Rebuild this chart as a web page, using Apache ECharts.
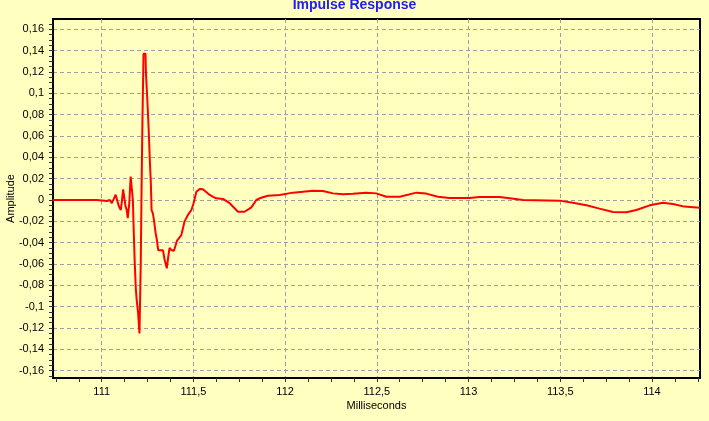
<!DOCTYPE html>
<html>
<head>
<meta charset="utf-8">
<title>Impulse Response</title>
<script src="https://cdn.jsdelivr.net/npm/echarts@6/dist/echarts.min.js"></script>
<style>
  html, body { margin: 0; padding: 0; background: #FFFFC0; }
  #chart { width: 709px; height: 421px; }
</style>
</head>
<body>
<div id="chart"></div>
<script>
// time in ms
var timeMs = [
  110.734, 110.974, 110.980, 111.028, 111.033, 111.044, 111.055, 111.066, 111.076, 111.084,
  111.093, 111.104, 111.109, 111.117, 111.125, 111.130, 111.136, 111.142, 111.150, 111.158,
  111.167, 111.170, 111.175, 111.180, 111.186, 111.191, 111.198, 111.206, 111.213, 111.217,
  111.222, 111.228, 111.239, 111.241, 111.246, 111.251, 111.257, 111.262, 111.268, 111.272,
  111.279, 111.286, 111.294, 111.301, 111.308, 111.323, 111.334, 111.343, 111.355, 111.363,
  111.370, 111.381, 111.394, 111.410, 111.434, 111.452, 111.470, 111.489, 111.501, 111.516,
  111.534, 111.552, 111.589, 111.607, 111.625, 111.661, 111.698, 111.743, 111.779, 111.816,
  111.843, 111.861, 111.906, 111.970, 112.043, 112.152, 112.206, 112.261, 112.315, 112.370,
  112.443, 112.497, 112.552, 112.625, 112.716, 112.770, 112.833, 112.897, 113.006, 113.060,
  113.169, 113.224, 113.297, 113.497, 113.569, 113.643, 113.714, 113.788, 113.861, 113.915,
  113.988, 114.060, 114.115, 114.177, 114.262
];
var amplitude = [
  0, 0, -0.001, -0.001, 0, 0, -0.003, 0.001, 0.005, 0,
  -0.0056, -0.0094, -0.003, 0.010, 0.009, -0.006, -0.009, -0.017, -0.004, 0.022,
  0.022, 0.0, -0.031, -0.058, -0.083, -0.094, -0.105, -0.125, -0.059, 0.006,
  0.072, 0.137, 0.137, 0.120, 0.103, 0.086, 0.0625, 0.039, 0.0156, -0.0094,
  -0.0125, -0.020, -0.031, -0.0375, -0.047, -0.047, -0.047, -0.056, -0.064, -0.053,
  -0.045, -0.047, -0.0475, -0.0384, -0.033, -0.020, -0.014, -0.0094, -0.003, 0.0078,
  0.0103, 0.0100, 0.0047, 0.003, 0.0016, 0.001, -0.003, -0.011, -0.011, -0.0069,
  0, 0.0016, 0.004, 0.0047, 0.0069, 0.0087, 0.0085, 0.0062, 0.0053, 0.0059,
  0.0069, 0.0062, 0.003, 0.003, 0.0069, 0.006, 0.003, 0.0019, 0.0019, 0.0028,
  0.0028, 0.0016, 0, -0.0006, -0.0025, -0.005, -0.0081, -0.0112, -0.0115, -0.0094,
  -0.005, -0.0025, -0.0037, -0.0062, -0.0072
];

// tick positions
var xMajorTicks = [111, 111.5, 112, 112.5, 113, 113.5, 114];
var xMinorTicks = [110.75, 110.875, 111, 111.125, 111.25, 111.375, 111.5, 111.625, 111.75, 111.875,
  112, 112.125, 112.25, 112.375, 112.5, 112.625, 112.75, 112.875, 113, 113.125, 113.25, 113.375,
  113.5, 113.625, 113.75, 113.875, 114, 114.125, 114.25];
var yMajorTicks = [-0.16, -0.14, -0.12, -0.1, -0.08, -0.06, -0.04, -0.02, 0,
  0.02, 0.04, 0.06, 0.08, 0.1, 0.12, 0.14, 0.16];
var yMinorTicks = [-0.165, -0.16, -0.155, -0.15, -0.145, -0.14, -0.135, -0.13, -0.125, -0.12,
  -0.115, -0.11, -0.105, -0.1, -0.095, -0.09, -0.085, -0.08, -0.075, -0.07, -0.065, -0.06,
  -0.055, -0.05, -0.045, -0.04, -0.035, -0.03, -0.025, -0.02, -0.015, -0.01, -0.005, 0,
  0.005, 0.01, 0.015, 0.02, 0.025, 0.03, 0.035, 0.04, 0.045, 0.05, 0.055, 0.06, 0.065,
  0.07, 0.075, 0.08, 0.085, 0.09, 0.095, 0.1, 0.105, 0.11, 0.115, 0.12, 0.125, 0.13,
  0.135, 0.14, 0.145, 0.15, 0.155, 0.16, 0.165];

var X_MIN = 110.7345, X_MAX = 114.262;
var Y_MIN = -0.1668, Y_MAX = 0.1696;

function commaFmt(v) {
  return String(+Number(v).toFixed(4)).replace('.', ',');
}

var chart = echarts.init(document.getElementById('chart'));
var font = 'Liberation Sans, Arial, sans-serif';
var gridLine = { show: true, lineStyle: { color: '#A0A0A0', type: [4, 3], width: 1 } };

chart.setOption({
  animation: false,
  backgroundColor: '#FFFFC0',
  textStyle: { fontFamily: font },
  title: {
    text: 'Impulse Response',
    left: 'center',
    top: -7,
    textStyle: { color: '#2020F0', fontSize: 14, fontWeight: 'bold', fontFamily: font }
  },
  grid: {
    left: 53, right: 9, top: 19, bottom: 43,
    outerBoundsMode: 'none',
    containLabel: false,
    show: true,
    backgroundColor: '#FFFFC0',
    borderColor: '#000',
    borderWidth: 2
  },
  xAxis: [{
    type: 'value',
    min: X_MIN, max: X_MAX,
    name: 'Milliseconds',
    nameLocation: 'middle',
    nameGap: 22,
    nameMoveOverlap: false,
    nameTextStyle: { color: '#000', fontSize: 11, fontFamily: font },
    axisLine: { onZero: false, lineStyle: { color: '#000', width: 2 } },
    axisTick: { customValues: xMinorTicks, length: 4, lineStyle: { color: '#333' } },
    axisLabel: { customValues: xMajorTicks, formatter: commaFmt, color: '#000', fontSize: 11, margin: 8 },
    splitLine: { show: false }
  }, {
    type: 'value',
    position: 'bottom',
    min: X_MIN, max: X_MAX,
    axisLine: { show: false, onZero: false },
    axisTick: { show: false, customValues: xMajorTicks },
    axisLabel: { show: false, customValues: xMajorTicks },
    splitLine: gridLine
  }],
  yAxis: [{
    type: 'value',
    min: Y_MIN, max: Y_MAX,
    name: 'Amplitude',
    nameLocation: 'middle',
    nameGap: 37,
    nameMoveOverlap: false,
    nameRotate: 90,
    nameTextStyle: { color: '#000', fontSize: 11, fontFamily: font },
    axisLine: { show: true, onZero: false, lineStyle: { color: '#000', width: 2 } },
    axisTick: { show: true, customValues: yMinorTicks, length: 4, lineStyle: { color: '#333' } },
    axisLabel: { customValues: yMajorTicks, formatter: commaFmt, color: '#000', fontSize: 11, margin: 9 },
    splitLine: { show: false }
  }, {
    type: 'value',
    position: 'left',
    min: Y_MIN, max: Y_MAX,
    axisLine: { show: false, onZero: false },
    axisTick: { show: false, customValues: yMajorTicks },
    axisLabel: { show: false, customValues: yMajorTicks },
    splitLine: gridLine
  }],
  series: [{
    name: 'Impulse Response',
    type: 'line',
    xAxisIndex: 0,
    yAxisIndex: 0,
    showSymbol: false,
    data: timeMs.map(function (t, i) { return [t, amplitude[i]]; }),
    lineStyle: { color: '#FF0000', width: 2 },
    itemStyle: { color: '#FF0000' },
    z: 5
  }]
});
</script>
</body>
</html>
